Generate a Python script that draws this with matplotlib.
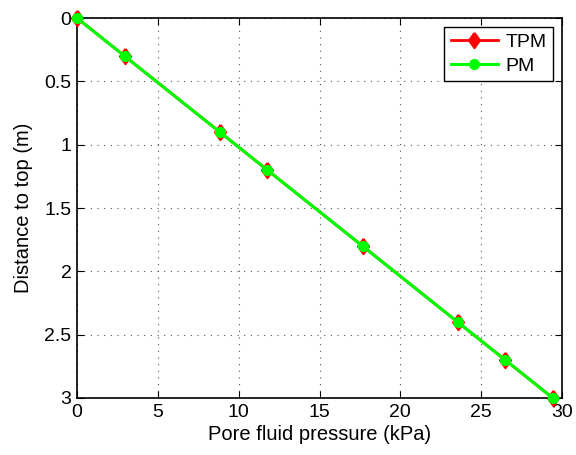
import matplotlib
matplotlib.use("Agg")
import matplotlib.pyplot as plt

plt.rcParams['font.family'] = ['Liberation Sans', 'DejaVu Sans']

depth = [0, 0.3, 0.9, 1.2, 1.8, 2.4, 2.7, 3.0]
p_tpm = [0, 2.94, 8.83, 11.77, 17.66, 23.54, 26.49, 29.43]
p_pm = [0, 2.94, 8.83, 11.77, 17.66, 23.54, 26.49, 29.43]
xticks = [0, 5, 10, 15, 20, 25, 30]
yticks = [0, 0.5, 1, 1.5, 2, 2.5, 3]
yticklabels = ['0', '0.5', '1', '1.5', '2', '2.5', '3']

fig = plt.figure(figsize=(5.76, 4.55), dpi=100)
ax = fig.add_axes([0.1337, 0.1253, 0.8420, 0.8351])

diamond = [(0, 1), (0.72, 0), (0, -1), (-0.72, 0), (0, 1)]
ax.plot(p_tpm, depth, '-', color='red', lw=2, marker=diamond, ms=11,
        mfc='red', mec='red', mew=1.5, label='TPM', clip_on=False, zorder=3)
ax.plot(p_pm, depth, '-', color='#00ff00', lw=2.2, marker='o', ms=7,
        mfc='#00ff00', mec='#00ff00', label='PM', clip_on=False, zorder=4)

ax.set_xlim(0, 30)
ax.set_ylim(3, 0)
ax.set_xticks(xticks)
ax.set_yticks(yticks)
ax.set_yticklabels(yticklabels)
ax.tick_params(direction='in', top=True, right=True, labelsize=14, length=5, pad=4)
ax.grid(True, linestyle=(0, (1, 5)), color='#555555', lw=0.8)
for s in ax.spines.values():
    s.set_linewidth(1.2)
ax.set_xlabel('Pore fluid pressure (kPa)', fontsize=14.5, labelpad=3)
ax.set_ylabel('Distance to top (m)', fontsize=14.5, labelpad=8)

leg = ax.legend(loc='upper right', fontsize=14, fancybox=False, edgecolor='black',
                framealpha=1, borderaxespad=0.45, handlelength=2.4, labelspacing=0.3,
                borderpad=0.35, handletextpad=0.4)
leg.get_frame().set_linewidth(1.0)

fig.savefig('out.png', dpi=100)
